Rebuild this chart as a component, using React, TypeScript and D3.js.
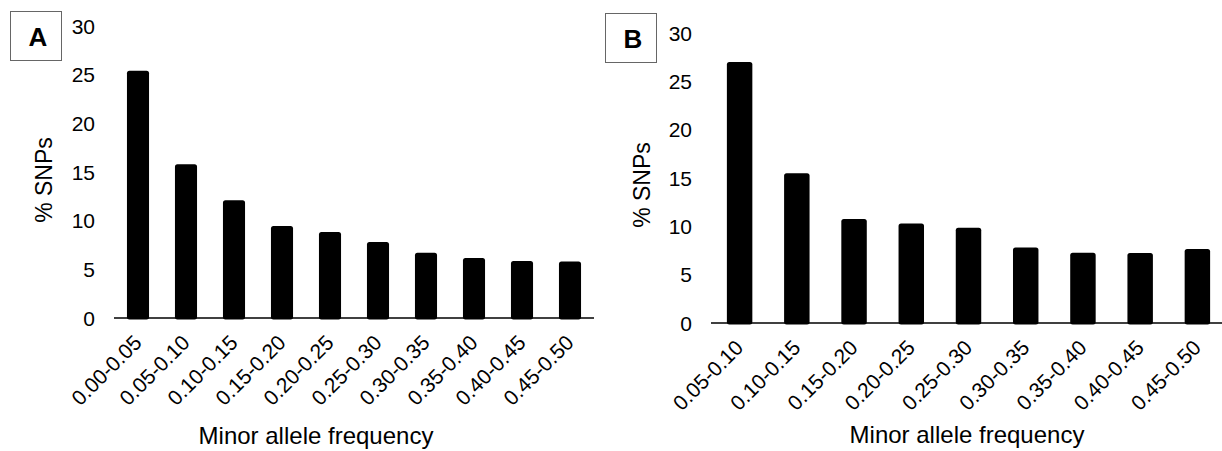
import React, { useRef, useEffect } from "react";
import * as d3 from "d3";

// Panel A: all frequency classes
const categoriesA = [
    "0.00-0.05", "0.05-0.10", "0.10-0.15", "0.15-0.20", "0.20-0.25",
    "0.25-0.30", "0.30-0.35", "0.35-0.40", "0.40-0.45", "0.45-0.50",
];
const valuesA = [25.4, 15.8, 12.1, 9.45, 8.84, 7.8, 6.7, 6.16, 5.86, 5.8];

// Panel B: starts at 0.05
const categoriesB = [
    "0.05-0.10", "0.10-0.15", "0.15-0.20", "0.20-0.25",
    "0.25-0.30", "0.30-0.35", "0.35-0.40", "0.40-0.45", "0.45-0.50",
];
const valuesB = [27.0, 15.5, 10.75, 10.3, 9.85, 7.8, 7.27, 7.24, 7.65];

const yTicks = [0, 5, 10, 15, 20, 25, 30];
const yTitle = "% SNPs";
const xTitle = "Minor allele frequency";

const FONT = "'Liberation Sans', Arial, Helvetica, sans-serif";

interface PanelLayout {
    letter: string;
    box: { x: number; y: number; w: number; h: number };
    xRange: [number, number];
    yRange: [number, number];
    pad: number;
    tickX: number;
    yTitlePos: [number, number];
    xTitlePos: [number, number];
}

const layoutA: PanelLayout = {
    letter: "A",
    box: { x: 10.5, y: 11.5, w: 51, h: 49 },
    xRange: [114, 594],
    yRange: [318, 26],
    pad: 0.54,
    tickX: 95,
    yTitlePos: [52, 180],
    xTitlePos: [316, 444],
};

const layoutB: PanelLayout = {
    letter: "B",
    box: { x: 605.5, y: 13.5, w: 51, h: 49 },
    xRange: [711, 1226],
    yRange: [323, 33],
    pad: 0.555,
    tickX: 692,
    yTitlePos: [650, 185],
    xTitlePos: [967, 443],
};

function drawPanel(
    g: d3.Selection<SVGGElement, unknown, null, undefined>,
    categories: string[],
    values: number[],
    L: PanelLayout
) {
    const x = d3.scaleBand<string>()
        .domain(categories)
        .range(L.xRange)
        .paddingInner(L.pad)
        .paddingOuter(L.pad / 2);

    const y = d3.scaleLinear().domain([0, 30]).range(L.yRange);

    // bars
    g.selectAll("rect.bar")
        .data(values)
        .enter()
        .append("rect")
        .attr("class", "bar")
        .attr("x", (_, i) => x(categories[i])!)
        .attr("y", d => y(d))
        .attr("width", x.bandwidth())
        .attr("height", d => y(0) - y(d) + 1.5)
        .attr("rx", 2.5)
        .attr("fill", "#000");

    // baseline
    g.append("line")
        .attr("x1", L.xRange[0])
        .attr("x2", L.xRange[1])
        .attr("y1", y(0))
        .attr("y2", y(0))
        .attr("stroke", "#000")
        .attr("stroke-width", 1.5);

    // y tick labels
    g.selectAll("text.ytick")
        .data(yTicks)
        .enter()
        .append("text")
        .attr("class", "ytick")
        .attr("x", L.tickX)
        .attr("y", d => y(d) + 7.5)
        .attr("text-anchor", "end")
        .attr("font-size", 21)
        .text(d => String(d));

    // x tick labels, rotated
    g.selectAll("text.xtick")
        .data(categories)
        .enter()
        .append("text")
        .attr("class", "xtick")
        .attr("text-anchor", "end")
        .attr("font-size", 21)
        .attr("transform", d => {
            const cx = x(d)! + x.bandwidth() / 2 + 5;
            return `translate(${cx},${y(0) + 26}) rotate(-45)`;
        })
        .text(d => d);

    // axis titles
    g.append("text")
        .attr("transform", `translate(${L.yTitlePos[0]},${L.yTitlePos[1]}) rotate(-90)`)
        .attr("text-anchor", "middle")
        .attr("font-size", 23)
        .text(yTitle);

    g.append("text")
        .attr("x", L.xTitlePos[0])
        .attr("y", L.xTitlePos[1])
        .attr("text-anchor", "middle")
        .attr("font-size", 24)
        .text(xTitle);

    // panel letter
    g.append("rect")
        .attr("x", L.box.x)
        .attr("y", L.box.y)
        .attr("width", L.box.w)
        .attr("height", L.box.h)
        .attr("fill", "#fff")
        .attr("stroke", "#666")
        .attr("stroke-width", 1);

    g.append("text")
        .attr("x", L.box.x + L.box.w / 2 + 2)
        .attr("y", L.box.y + L.box.h / 2 + 9.5)
        .attr("text-anchor", "middle")
        .attr("font-size", 26)
        .attr("font-weight", "bold")
        .text(L.letter);
}

export default function App() {
    const svgRef = useRef<SVGSVGElement>(null);

    useEffect(() => {
        if (!svgRef.current) return;
        const svg = d3.select(svgRef.current);
        svg.selectAll("*").remove();

        const root = svg.append("g").attr("font-family", FONT).attr("fill", "#000");
        drawPanel(root.append("g"), categoriesA, valuesA, layoutA);
        drawPanel(root.append("g"), categoriesB, valuesB, layoutB);
    }, []);

    return (
        <div style={{ position: "absolute", left: 0, top: 0, width: 1222, height: 451, background: "#fff" }}>
            <svg ref={svgRef} width={1222} height={451} style={{ display: "block" }} />
        </div>
    );
}
